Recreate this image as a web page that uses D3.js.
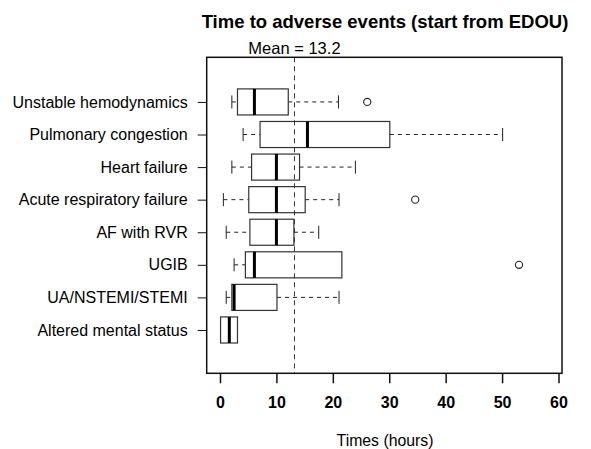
<!DOCTYPE html>
<html>
<head>
<meta charset="utf-8">
<script src="https://cdn.jsdelivr.net/npm/d3@7"></script>
<style>
body { margin: 0; background: #fff; }
svg text { font-family: "Liberation Sans", Arial, sans-serif; fill: #000; }
</style>
</head>
<body>
<div id="chart-area"></div>
<script>
// data (hours)
var categories = ["Unstable hemodynamics", "Pulmonary congestion", "Heart failure",
  "Acute respiratory failure", "AF with RVR", "UGIB", "UA/NSTEMI/STEMI", "Altered mental status"]
var whiskerLow = [2.1, 4.1, 2.1, 0.6, 1.1, 2.5, 1.1, 0.1]
var q1 = [3.1, 7.1, 5.6, 5.1, 5.3, 4.5, 2.1, 0.1]
var medians = [6.1, 15.5, 10.0, 10.0, 10.0, 6.1, 2.5, 1.65]
var q3 = [12.1, 30.1, 14.1, 15.1, 13.1, 21.6, 10.1, 3.1]
var whiskerHigh = [21.0, 50.1, 24.0, 21.1, 17.5, 21.6, 21.1, 3.1]
var outliers = [[26.1], [], [], [34.6], [], [53.0], [], []]
var meanValue = 13.2
var xTicks = [0, 10, 20, 30, 40, 50, 60]

var width = 591
var height = 449

var svg = d3.select("#chart-area").append("svg")
.attr("width", width)
.attr("height", height)

var x = d3.scaleLinear()
.domain([0, 60])
.range([220, 558.5])

// groups sit at 1..8 from the bottom
var y = d3.scaleLinear()
.domain([-0.33, 9.37])
.range([373.3, 57.3])

var pos = i => categories.length - i
var half = 0.4 * (y(0) - y(1))

var rows = categories.map((c, i) => ({
  name: c, lo: whiskerLow[i], q1: q1[i], med: medians[i], q3: q3[i], hi: whiskerHigh[i],
  out: outliers[i], yc: y(pos(i))
}))

var g = svg.append("g")

// whiskers
g.selectAll(".wlo").data(rows.filter(d => d.lo < d.q1)).enter().append("line")
.attr("x1", d => x(d.lo)).attr("x2", d => x(d.q1))
.attr("y1", d => d.yc).attr("y2", d => d.yc)
.attr("stroke", "#222").attr("stroke-dasharray", "4,4")

g.selectAll(".whi").data(rows.filter(d => d.hi > d.q3)).enter().append("line")
.attr("x1", d => x(d.q3)).attr("x2", d => x(d.hi))
.attr("y1", d => d.yc).attr("y2", d => d.yc)
.attr("stroke", "#222").attr("stroke-dasharray", "4,4")

// staples
g.selectAll(".caplo").data(rows.filter(d => d.lo < d.q1)).enter().append("line")
.attr("x1", d => x(d.lo)).attr("x2", d => x(d.lo))
.attr("y1", d => d.yc - half / 2).attr("y2", d => d.yc + half / 2)
.attr("stroke", "#222")

g.selectAll(".caphi").data(rows.filter(d => d.hi > d.q3)).enter().append("line")
.attr("x1", d => x(d.hi)).attr("x2", d => x(d.hi))
.attr("y1", d => d.yc - half / 2).attr("y2", d => d.yc + half / 2)
.attr("stroke", "#222")

// boxes
g.selectAll("rect.box").data(rows).enter().append("rect")
.attr("class", "box")
.attr("x", d => x(d.q1))
.attr("width", d => x(d.q3) - x(d.q1))
.attr("y", d => d.yc - half)
.attr("height", 2 * half)
.attr("fill", "#fff")
.attr("stroke", "#333")
.attr("stroke-width", 1.2)

g.selectAll(".median").data(rows).enter().append("line")
.attr("x1", d => x(d.med)).attr("x2", d => x(d.med))
.attr("y1", d => d.yc - half).attr("y2", d => d.yc + half)
.attr("stroke", "#000").attr("stroke-width", 3)

// outliers
rows.forEach(r => {
  g.selectAll(null).data(r.out).enter().append("circle")
  .attr("cx", v => x(v)).attr("cy", r.yc).attr("r", 3.6)
  .attr("fill", "none").attr("stroke", "#222").attr("stroke-width", 1.1)
})

// mean line
svg.append("line")
.attr("x1", x(meanValue)).attr("x2", x(meanValue))
.attr("y1", y.range()[1]).attr("y2", y.range()[0])
.attr("stroke", "#333").attr("stroke-dasharray", "5,4")

svg.append("text")
.attr("x", x(meanValue)).attr("y", 54)
.attr("text-anchor", "middle")
.attr("font-size", "16.5px")
.text("Mean = " + meanValue)

// frame
svg.append("rect")
.attr("x", 206.7).attr("y", 57.3)
.attr("width", 562 - 206.7).attr("height", 373.3 - 57.3)
.attr("fill", "none").attr("stroke", "#111").attr("stroke-width", 1.5)

// x axis
var xAxis = svg.append("g")
.attr("transform", "translate(0," + 373.3 + ")")
.call(d3.axisBottom(x).tickValues(xTicks).tickSize(10).tickPadding(13))
xAxis.select(".domain").remove()
xAxis.selectAll("line").attr("stroke", "#111").attr("stroke-width", 1.5)
xAxis.selectAll("text").attr("font-size", "16px").attr("font-weight", "bold")
.style("font-family", "Liberation Sans, Arial, sans-serif")

// y axis
var yAxis = svg.append("g")
.attr("transform", "translate(206.7,0)")
.call(d3.axisLeft(y).tickValues(categories.map((c, i) => pos(i)))
  .tickFormat((d, i) => categories[i]).tickSize(9).tickPadding(10))
yAxis.select(".domain").remove()
yAxis.selectAll("line").attr("stroke", "#111")
yAxis.selectAll("text").attr("font-size", "16px")
.style("font-family", "Liberation Sans, Arial, sans-serif")

// title and label
svg.append("text")
.attr("x", 385).attr("y", 28)
.attr("text-anchor", "middle")
.attr("font-size", "18.5px")
.attr("font-weight", "bold")
.text("Time to adverse events (start from EDOU)")

svg.append("text")
.attr("x", 385).attr("y", 446)
.attr("text-anchor", "middle")
.attr("font-size", "15.8px")
.text("Times (hours)")
</script>
</body>
</html>
